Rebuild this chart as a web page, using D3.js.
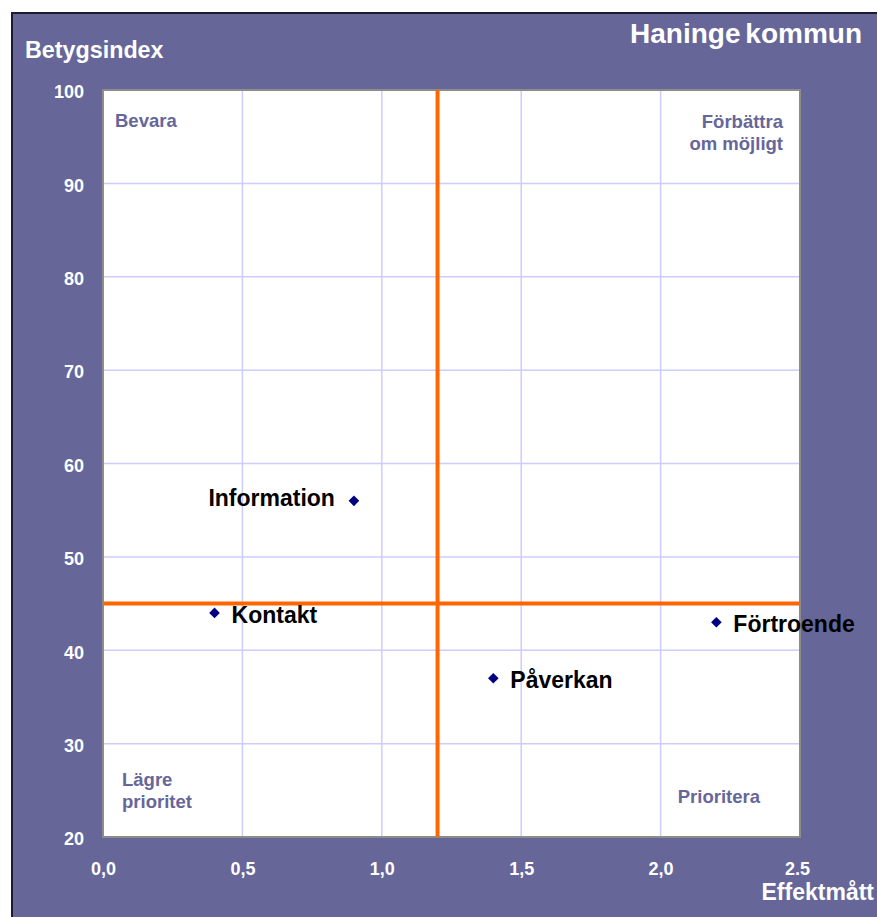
<!DOCTYPE html>
<html><head><meta charset="utf-8">
<script src="https://cdn.jsdelivr.net/npm/d3@7"></script>
<style>html,body{margin:0;padding:0;background:#fff;}svg{display:block;}</style>
</head><body>
<script>
const names = ["Information", "Kontakt", "Förtroende", "Påverkan"];
const effekt = [0.9, 0.4, 2.2, 1.4];
const betyg = [56, 44, 43, 37];
const xTicks = [0, 0.5, 1.0, 1.5, 2.0, 2.5];
const xTickLabels = ["0,0", "0,5", "1,0", "1,5", "2,0", "2.5"];
const yTicks = [20, 30, 40, 50, 60, 70, 80, 90, 100];
const xCut = 1.2, yCut = 45;
const quadrantText = [["Bevara"], ["Förbättra", "om möjligt"], ["Lägre", "prioritet"], ["Prioritera"]];

const W = 877, H = 917;
const purple = "#666699";
const font = "'Liberation Sans', Arial, sans-serif";
const svg = d3.select("body").append("svg").attr("width", W).attr("height", H);

svg.append("rect").attr("x", 0).attr("y", 0).attr("width", W).attr("height", H).attr("fill", "#fff");
svg.append("rect").attr("x", 12).attr("y", 13).attr("width", W).attr("height", H).attr("fill", purple)
  .attr("stroke", "#1a1a33").attr("stroke-width", 2);

const x = d3.scaleLinear().domain([0, 2.5]).range([103, 800]);
const y = d3.scaleLinear().domain([20, 100]).range([837, 90]);

svg.append("rect").attr("x", x(0)).attr("y", y(100)).attr("width", x(2.5) - x(0)).attr("height", y(20) - y(100))
  .attr("fill", "#fff");

// gridlines
const g = svg.append("g");
g.selectAll(".vg").data(xTicks.slice(1, -1)).join("line")
  .attr("x1", d => x(d)).attr("x2", d => x(d)).attr("y1", y(100)).attr("y2", y(20))
  .attr("stroke", "#ccccff").attr("stroke-width", 1.5);
g.selectAll(".hg").data(yTicks.slice(1, -1)).join("line")
  .attr("y1", d => y(d)).attr("y2", d => y(d)).attr("x1", x(0)).attr("x2", x(2.5))
  .attr("stroke", "#ccccff").attr("stroke-width", 1.5);

// plot border
svg.append("rect").attr("x", x(0)).attr("y", y(100)).attr("width", x(2.5) - x(0)).attr("height", y(20) - y(100))
  .attr("fill", "none").attr("stroke", "#8c8c8c").attr("stroke-width", 2);

// axes labels
const yAxis = d3.axisLeft(y).tickValues(yTicks).tickSize(0).tickPadding(0).tickFormat(d3.format("d"));
const ya = svg.append("g").attr("transform", `translate(${x(0) - 19},0)`).call(yAxis);
ya.select(".domain").remove();
ya.selectAll("text").attr("fill", "#fff").attr("font-family", font).attr("font-weight", "bold")
  .attr("font-size", 18).attr("dy", "0.43em");

const xAxis = d3.axisBottom(x).tickValues(xTicks).tickSize(0).tickPadding(0).tickFormat((d, i) => xTickLabels[i]);
const xa = svg.append("g").attr("transform", `translate(0,${y(20) + 32})`).call(xAxis);
xa.select(".domain").remove();
xa.selectAll("text").attr("fill", "#fff").attr("font-family", font).attr("font-weight", "bold")
  .attr("font-size", 18).attr("dy", "0.35em");
xa.selectAll("text").filter((d, i) => i === xTicks.length - 1).attr("dx", -3);

// titles
svg.append("text").attr("x", 862).attr("y", 43).attr("text-anchor", "end").attr("fill", "#fff")
  .attr("font-family", font).attr("font-weight", "bold").attr("font-size", 28).attr("word-spacing", -3).text("Haninge kommun");
svg.append("text").attr("x", 25).attr("y", 58).attr("fill", "#fff")
  .attr("font-family", font).attr("font-weight", "bold").attr("font-size", 23.3).text("Betygsindex");
svg.append("text").attr("x", 874).attr("y", 900).attr("text-anchor", "end").attr("fill", "#fff")
  .attr("font-family", font).attr("font-weight", "bold").attr("font-size", 23).text("Effektmått");

// quadrant labels
const quadrants = [
  {lines: quadrantText[0], px: x(0) + 12, py: y(100) + 37, anchor: "start"},
  {lines: quadrantText[1], px: x(2.5) - 17, py: y(100) + 38, anchor: "end"},
  {lines: quadrantText[2], px: x(0) + 19, py: y(20) - 51, anchor: "start"},
  {lines: quadrantText[3], px: x(2.5) - 40, py: y(20) - 34, anchor: "end"}
];
quadrants.forEach(q => {
  const t = svg.append("text").attr("x", q.px).attr("y", q.py).attr("text-anchor", q.anchor)
    .attr("fill", purple).attr("font-family", font).attr("font-weight", "bold").attr("font-size", 18.5);
  q.lines.forEach((l, i) => t.append("tspan").attr("x", q.px).attr("dy", i === 0 ? 0 : 22).text(l));
});

// cut lines
svg.append("line").attr("x1", x(xCut)).attr("x2", x(xCut)).attr("y1", y(100)).attr("y2", y(20))
  .attr("stroke", "#ff6600").attr("stroke-width", 4);
svg.append("line").attr("x1", x(0)).attr("x2", x(2.5)).attr("y1", y(yCut)).attr("y2", y(yCut))
  .attr("stroke", "#ff6600").attr("stroke-width", 4);

// points
const sym = d3.symbol().type(d3.symbolDiamond2).size(72);
const pts = names.map((n, i) => ({n, x: effekt[i], y: betyg[i]}));
svg.selectAll(".pt").data(pts).join("path")
  .attr("d", sym).attr("transform", d => `translate(${x(d.x)},${y(d.y)})`)
  .attr("fill", "#000080");
svg.selectAll(".pl").data(pts).join("text")
  .attr("x", d => d.n === "Information" ? x(d.x) - 19 : x(d.x) + 17)
  .attr("y", d => y(d.y) + (d.n === "Information" ? 5 : 10))
  .attr("text-anchor", d => d.n === "Information" ? "end" : "start")
  .attr("fill", "#000").attr("font-family", font).attr("font-weight", "bold").attr("font-size", 23)
  .text(d => d.n);
</script>
</body></html>
